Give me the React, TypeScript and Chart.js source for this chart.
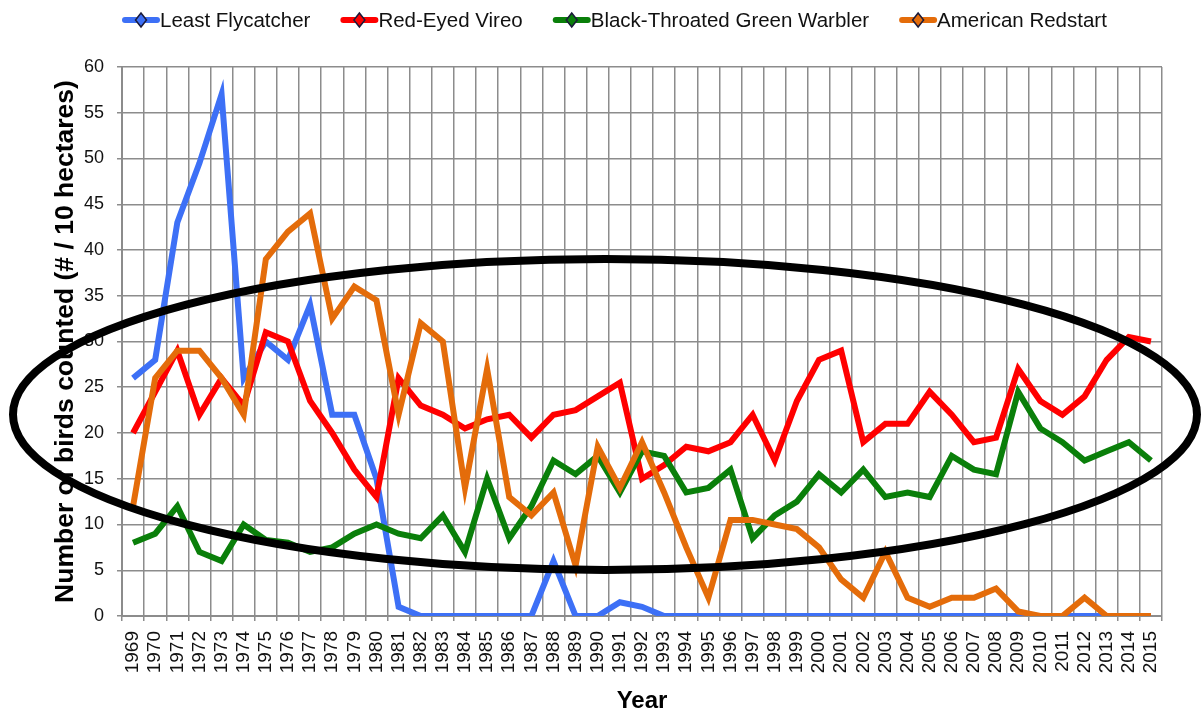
import React, { useEffect, useRef } from 'react';
import { Chart, registerables } from 'chart.js';

Chart.register(...registerables);

const FONT = '"Liberation Sans", Arial, Helvetica, sans-serif';

const years = [
  '1969', '1970', '1971', '1972', '1973', '1974', '1975', '1976', '1977', '1978',
  '1979', '1980', '1981', '1982', '1983', '1984', '1985', '1986', '1987', '1988',
  '1989', '1990', '1991', '1992', '1993', '1994', '1995', '1996', '1997', '1998',
  '1999', '2000', '2001', '2002', '2003', '2004', '2005', '2006', '2007', '2008',
  '2009', '2010', '2011', '2012', '2013', '2014', '2015',
];

const yTicks = [0, 5, 10, 15, 20, 25, 30, 35, 40, 45, 50, 55, 60];

const leastFlycatcher = [
  26, 28, 43, 49.5, 57, 26, 30, 28, 34, 22,
  22, 15, 1, 0, 0, 0, 0, 0, 0, 6,
  0, 0, 1.5, 1, 0, 0, 0, 0, 0, 0,
  0, 0, 0, 0, 0, 0, 0, 0, 0, 0,
  0, 0, 0, 0, 0, 0, 0,
];

const redEyedVireo = [
  20, 24.5, 29, 22, 26, 23, 31, 30, 23.5, 20,
  16, 13, 26, 23, 22, 20.5, 21.5, 22, 19.5, 22,
  22.5, 24, 25.5, 15, 16.5, 18.5, 18, 19, 22, 17,
  23.5, 28, 29, 19, 21, 21, 24.5, 22, 19, 19.5,
  27, 23.5, 22, 24, 28, 30.5, 30,
];

const blackThroatedGreenWarbler = [
  8, 9, 12, 7, 6, 10, 8.3, 8, 7, 7.5,
  9, 10, 9, 8.5, 11, 7, 15, 8.5, 12, 17,
  15.5, 17.5, 13.5, 18, 17.5, 13.5, 14, 16, 8.5, 11,
  12.5, 15.5, 13.5, 16, 13, 13.5, 13, 17.5, 16, 15.5,
  24.5, 20.5, 19, 17, 18, 19, 17,
];

const americanRedstart = [
  12, 26, 29, 29, 26, 22, 39, 42, 44, 32.5,
  36, 34.5, 22, 32, 30, 14, 27, 13, 11, 13.5,
  5.5, 18.5, 14, 19, 13.5, 7.5, 2, 10.5, 10.5, 10,
  9.5, 7.5, 4, 2, 7, 2, 1, 2, 2, 3,
  0.5, 0, 0, 2, 0, 0, 0,
];

const seriesLabels = [
  'Least Flycatcher',
  'Red-Eyed Vireo',
  'Black-Throated Green Warbler',
  'American Redstart',
];

const seriesColors = ['#3D70F6', '#FF0000', '#0A7F0A', '#E46C0A'];

const legendPlugin = {
  id: 'customLegend',
  afterDraw(chart: any) {
    const ctx = chart.ctx;
    ctx.save();
    ctx.font = `20.5px ${FONT}`;
    ctx.textBaseline = 'middle';
    ctx.textAlign = 'left';
    let x = 122;
    const y = 20;
    chart.data.datasets.forEach((ds: any) => {
      const col = ds.borderColor;
      ctx.strokeStyle = col;
      ctx.lineWidth = 6;
      ctx.lineCap = 'round';
      ctx.beginPath();
      ctx.moveTo(x + 3, y);
      ctx.lineTo(x + 35, y);
      ctx.stroke();
      const cx = x + 19;
      ctx.beginPath();
      ctx.moveTo(cx, y - 7);
      ctx.lineTo(cx + 5.5, y);
      ctx.lineTo(cx, y + 7);
      ctx.lineTo(cx - 5.5, y);
      ctx.closePath();
      ctx.fillStyle = col;
      ctx.fill();
      ctx.lineWidth = 1.5;
      ctx.strokeStyle = '#1a1a3a';
      ctx.stroke();
      ctx.fillStyle = '#111';
      ctx.fillText(ds.label, x + 38, y + 1);
      x += 38 + ctx.measureText(ds.label).width + 30;
    });
    ctx.restore();
  },
};

const ellipsePlugin = {
  id: 'ellipseOverlay',
  afterDraw(chart: any) {
    const ctx = chart.ctx;
    ctx.save();
    ctx.lineWidth = 8;
    ctx.strokeStyle = '#000';
    ctx.beginPath();
    ctx.ellipse(605, 414.5, 592, 155.5, 0, 0, Math.PI * 2);
    ctx.stroke();
    ctx.restore();
  },
};

export default function App() {
  const canvasRef = useRef<HTMLCanvasElement | null>(null);

  useEffect(() => {
    if (!canvasRef.current) return;
    const seriesData = [leastFlycatcher, redEyedVireo, blackThroatedGreenWarbler, americanRedstart];
    const chart = new Chart(canvasRef.current, {
      type: 'line',
      data: {
        labels: years,
        datasets: seriesData.map((d, i) => ({
          label: seriesLabels[i],
          data: d,
          borderColor: seriesColors[i],
          backgroundColor: seriesColors[i],
          borderWidth: 6,
          pointRadius: 0,
          pointHoverRadius: 0,
          tension: 0,
          fill: false,
          borderJoinStyle: 'miter' as const,
          order: 4 - i,
        })),
      },
      options: {
        animation: false,
        responsive: true,
        maintainAspectRatio: false,
        layout: { padding: { top: 67, right: 41, left: 0, bottom: 0 } },
        plugins: {
          legend: { display: false },
          tooltip: { enabled: false },
        },
        scales: {
          x: {
            type: 'category',
            offset: true,
            grid: {
              offset: true,
              color: '#8c8c8c',
              lineWidth: 1.5,
              tickLength: 5,
              drawTicks: true,
            },
            border: { color: '#8c8c8c', width: 2 },
            ticks: {
              autoSkip: false,
              maxRotation: 90,
              minRotation: 90,
              padding: 10,
              color: '#111',
              font: { family: FONT, size: 19 },
            },
            title: {
              display: true,
              text: 'Year',
              color: '#000',
              padding: { top: 0, bottom: 0 },
              font: { family: FONT, size: 24, weight: 'bold' },
            },
            afterFit(scale: any) {
              scale.height = 100;
            },
          },
          y: {
            min: 0,
            max: 60,
            afterBuildTicks(scale: any) {
              scale.ticks = yTicks.map((v) => ({ value: v }));
            },
            grid: {
              color: '#8c8c8c',
              lineWidth: 1.5,
              tickLength: 5,
            },
            border: { color: '#8c8c8c', width: 2 },
            ticks: {
              padding: 13,
              color: '#111',
              font: { family: FONT, size: 18 },
            },
            title: {
              display: true,
              text: 'Number of birds counted (# / 10 hectares)',
              color: '#000',
              padding: { top: 50, bottom: 0 },
              font: { family: FONT, size: 26.5, weight: 'bold' },
            },
            afterFit(scale: any) {
              scale.width = 122;
            },
          },
        },
      },
      plugins: [legendPlugin, ellipsePlugin],
    } as any);
    return () => chart.destroy();
  }, []);

  return (
    <div style={{ position: 'fixed', left: 0, top: 0, width: 1203, height: 716, background: '#fff' }}>
      <canvas ref={canvasRef} />
    </div>
  );
}
